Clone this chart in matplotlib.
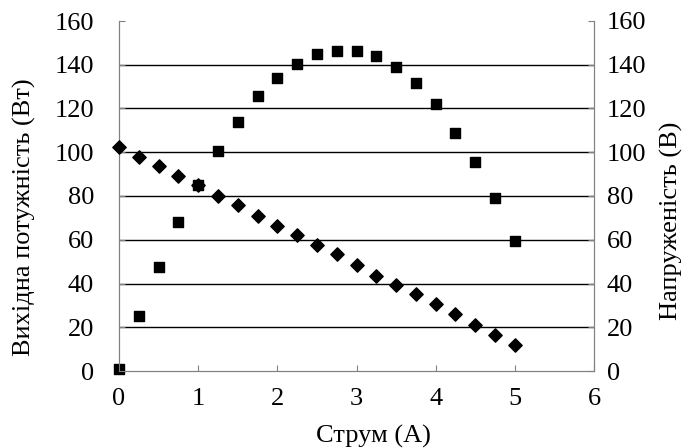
import matplotlib
matplotlib.use('Agg')
import matplotlib.pyplot as plt

plt.rcParams['font.family'] = ['Liberation Serif', 'DejaVu Serif']

current = [0, 0.25, 0.5, 0.75, 1.0, 1.25, 1.5, 1.75, 2.0, 2.25, 2.5,
           2.75, 3.0, 3.25, 3.5, 3.75, 4.0, 4.25, 4.5, 4.75, 5.0]
power = [0.8, 25, 47.5, 68, 85, 100.5, 114, 125.5, 134, 140.5, 145,
         146.5, 146.5, 144, 139, 131.5, 122, 109, 95.5, 79, 59.5]
voltage = [102.5, 98, 93.5, 89, 85, 80, 76, 71, 66.5, 62, 57.5,
           53.5, 48.5, 43.5, 39.5, 35, 30.5, 26, 21, 16.5, 12]

fig = plt.figure(figsize=(6.89, 4.48), dpi=100)
ax = fig.add_axes([119/689, 77/448, 475/689, 350/448])
ax2 = ax.twinx()

ax.scatter(current, power, marker='s', s=48, color='black', zorder=3, clip_on=False)
ax2.scatter(current, voltage, marker='D', s=46, color='black', zorder=3, clip_on=False)

grey = '#808080'
for a in (ax, ax2):
    a.set_ylim(0, 160)
    a.set_yticks(range(0, 161, 20))
    a.spines['top'].set_visible(False)
    a.tick_params(labelsize=19, direction='in', length=4, color=grey)
ax.tick_params(axis='y', pad=18)
ax.tick_params(axis='x', pad=12)
ax2.tick_params(axis='y', pad=9)
ax.set_xlim(0, 6)
ax.set_xticks(range(0, 7))

# horizontal grid only between the ends
ax.yaxis.grid(True, color='black', linewidth=1)
gl = ax.yaxis.get_gridlines()
gl[0].set_visible(False)
gl[-1].set_visible(False)
ax.set_axisbelow(True)

for s in ('left', 'bottom', 'right'):
    ax.spines[s].set_color(grey)
    ax2.spines[s].set_color(grey)

ax.set_xlabel('Струм (А)', fontsize=19)
ax.set_ylabel('Вихідна потужність (Вт)', fontsize=19)
ax2.set_ylabel('Напруженість (В)', fontsize=19)
ax.xaxis.set_label_coords(0.535, -0.155)
ax.yaxis.set_label_coords(-0.175, 0.44)
ax2.yaxis.set_label_coords(1.139, 0.43)

fig.savefig('out.png', dpi=100)
